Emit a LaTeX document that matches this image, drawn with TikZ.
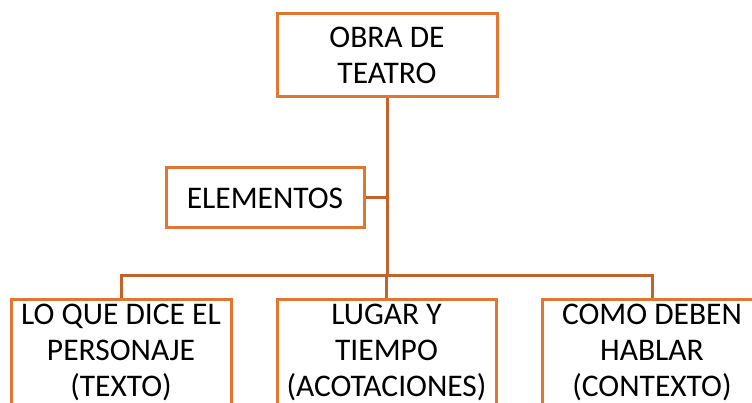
\documentclass[tikz,border=0pt]{standalone}
\usepackage{fontspec}
\setmainfont{Carlito}
\definecolor{boxline}{HTML}{E0762F}
\definecolor{conline}{HTML}{C5612A}
\begin{document}
\begin{tikzpicture}[x=1pt,y=-1pt,
  box/.style={draw=boxline, line width=3pt, fill=white, align=center, inner sep=0pt,
    font=\fontsize{31.5}{36}\selectfont, text=black},
  con/.style={draw=conline, line width=3pt}]
\useasboundingbox (0,0) rectangle (752,403);
\clip (0,0) rectangle (752,403);
\fill[white] (0,0) rectangle (752,403);
\node[box, minimum width=220, minimum height=83] (obra) at (387,55.5) {OBRA DE\\TEATRO};
\node[box, minimum width=198, minimum height=60] (elem) at (265,198) {ELEMENTOS};
\node[box, minimum width=220, minimum height=106, anchor=north] (texto) at (121,298) {LO QUE DICE EL\\PERSONAJE\\(TEXTO)};
\node[box, minimum width=219, minimum height=106, anchor=north] (lugar) at (386.5,298) {LUGAR Y\\TIEMPO\\(ACOTACIONES)};
\node[box, minimum width=220, minimum height=106, anchor=north] (como) at (652,298) {COMO DEBEN\\HABLAR\\(CONTEXTO)};
\coordinate (hub) at (387,276);
\coordinate (junc) at (387,198);
\draw[con] (obra.south) -- (hub);
\draw[con] (elem.east) -- (junc);
\draw[con] (texto.north) |- (hub);
\draw[con] (como.north) |- (hub);
\draw[con] (lugar.north) -- (lugar.north |- hub);
\end{tikzpicture}
\end{document}
